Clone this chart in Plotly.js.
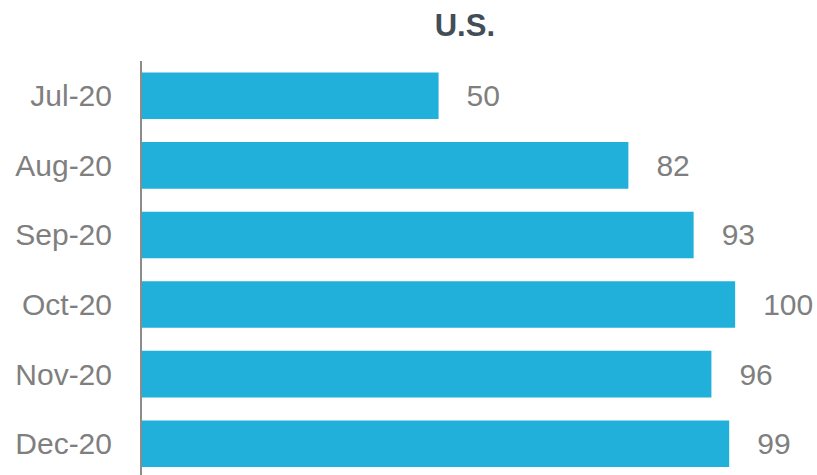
<!DOCTYPE html>
<html>
<head>
<meta charset="utf-8">
<script src="https://cdn.plot.ly/plotly-3.0.1.min.js"></script>
<style>html,body{margin:0;padding:0;background:#fff;}#chart{width:817px;height:475px;}</style>
</head>
<body>
<div id="chart"></div>
<script>
var months = ["Jul-20", "Aug-20", "Sep-20", "Oct-20", "Nov-20", "Dec-20"];
var values = [50, 82, 93, 100, 96, 99];
var chartTitle = "U.S.";

var trace = {
  type: "bar",
  orientation: "h",
  y: months,
  x: values,
  marker: {color: "#20B0D9"},
  text: values.map(function(v){ return "\u00a0\u00a0\u00a0" + v; }),
  textposition: "outside",
  cliponaxis: false,
  textfont: {family: "Liberation Sans, Arial, sans-serif", size: 30, color: "#7F7F7F"},
  hoverinfo: "none"
};

var layout = {
  width: 817,
  height: 475,
  margin: {l: 142, r: 0, t: 61, b: 0, pad: 0},
  paper_bgcolor: "#fff",
  plot_bgcolor: "#fff",
  showlegend: false,
  bargap: 0.33,
  title: {
    text: "<b>" + chartTitle + "</b>",
    font: {family: "Liberation Sans, Arial, sans-serif", size: 31, color: "#414D57"},
    x: 0.569, xref: "container", xanchor: "center",
    y: 0.948, yref: "container", yanchor: "middle"
  },
  xaxis: {
    range: [0, 113.8],
    visible: false,
    showgrid: false,
    zeroline: false,
    fixedrange: true
  },
  yaxis: {
    type: "category",
    range: [5.45, -0.5],
    showline: true,
    linecolor: "#8C8C8C",
    linewidth: 2,
    showgrid: false,
    zeroline: false,
    ticks: "outside",
    ticklen: 22,
    tickcolor: "rgba(0,0,0,0)",
    tickfont: {family: "Liberation Sans, Arial, sans-serif", size: 30, color: "#7F7F7F"},
    fixedrange: true
  }
};

Plotly.newPlot("chart", [trace], layout, {staticPlot: true, displayModeBar: false});
</script>
</body>
</html>
